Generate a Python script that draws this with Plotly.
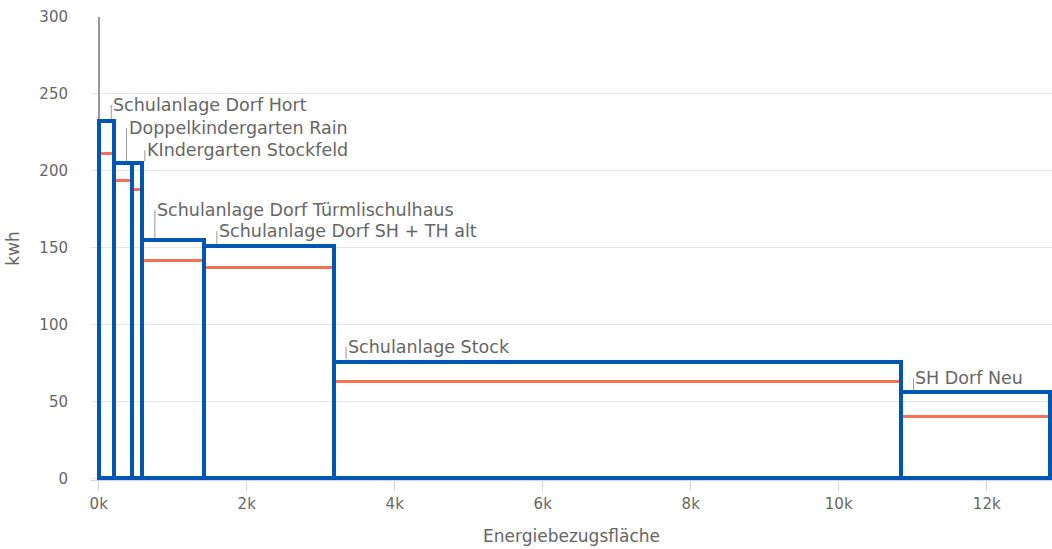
import numpy as np
import plotly.graph_objects as go

# ---- data ----
names = [
    "Schulanlage Dorf Hort",
    "Doppelkindergarten Rain",
    "KIndergarten Stockfeld",
    "Schulanlage Dorf Türmlischulhaus",
    "Schulanlage Dorf SH + TH alt",
    "Schulanlage Stock",
    "SH Dorf Neu",
]
flaeche = [208, 247, 135, 838, 1746, 7667, 2010]          # Energiebezugsfläche (bar widths)
kwh_ist = [232.5, 205, 205, 155, 151, 76, 56]              # blue bar heights
kwh_ziel = [211.5, 194, 188, 142, 137, 63, 40.5]           # orange line values
x_tickvals = [0, 2000, 4000, 6000, 8000, 10000, 12000]
x_ticktext = ["0k", "2k", "4k", "6k", "8k", "10k", "12k"]
y_tickvals = [0, 50, 100, 150, 200, 250, 300]

# ---- label placement (pixel offsets of the leader lines) ----
label_ay = [-16, -35, -13, -30, -15, -15, -14]

widths = np.array(flaeche, dtype=float)
lefts = np.concatenate([[0.0], np.cumsum(widths)[:-1]])
centers = lefts + widths / 2

BLUE = "#0055b5"
ORANGE = "#fb7150"
GRAY_TXT = "#666666"
FONT = "DejaVu Sans"

fig = go.Figure()

line_thick = 2.0
fig.add_trace(go.Bar(
    x=centers, width=widths,
    y=[line_thick] * len(kwh_ziel),
    base=[v - line_thick / 2 for v in kwh_ziel],
    marker=dict(color=ORANGE, line=dict(width=0)),
    hoverinfo="skip", showlegend=False,
))
fig.add_trace(go.Bar(
    x=centers, width=widths, y=kwh_ist,
    marker=dict(color="rgba(0,0,0,0)", line=dict(color=BLUE, width=4)),
    showlegend=False,
    hovertext=names,
))

for nm, lx, top, ay in zip(names, lefts, kwh_ist, label_ay):
    fig.add_annotation(
        x=lx, y=top, xshift=12.5,
        text=nm, showarrow=True, arrowhead=0, arrowwidth=1, arrowcolor="#999999",
        ax=0, ay=ay, standoff=2,
        xanchor="left", yanchor="middle",
        font=dict(family=FONT, size=17.5, color=GRAY_TXT),
    )

fig.update_layout(
    width=1052, height=549,
    margin=dict(l=91, r=0, t=17, b=68.5),
    paper_bgcolor="white", plot_bgcolor="white",
    barmode="overlay", bargap=0,
    font=dict(family=FONT, color=GRAY_TXT),
    xaxis=dict(
        automargin=False,
        range=[-104, 12882],
        tickvals=x_tickvals, ticktext=x_ticktext,
        tickfont=dict(family=FONT, size=15, color=GRAY_TXT),
        showgrid=False,
        showline=True, linecolor="#ccd6eb", linewidth=1,
        ticks="outside", ticklen=10, tickcolor="#ccd6eb", tickwidth=1,
        zeroline=True, zerolinecolor="#999999", zerolinewidth=1.5,
        layer="below traces",
        title=dict(text="Energiebezugsfläche", font=dict(family=FONT, size=17, color=GRAY_TXT), standoff=18),
    ),
    yaxis=dict(
        automargin=False,
        range=[-1, 300],
        tickvals=y_tickvals,
        tickfont=dict(family=FONT, size=15, color=GRAY_TXT),
        showgrid=True, gridcolor="#e6e6e6", gridwidth=1,
        zeroline=False, showline=False, ticks="",
        ticklabelstandoff=22,
        title=dict(text="kwh", font=dict(family=FONT, size=17, color=GRAY_TXT), standoff=15),
    ),
)

fig.write_html(
    "out.html",
    config={"displayModeBar": False},
    post_script="document.body.style.margin='0';document.body.style.padding='0';document.body.style.overflow='hidden';",
)
